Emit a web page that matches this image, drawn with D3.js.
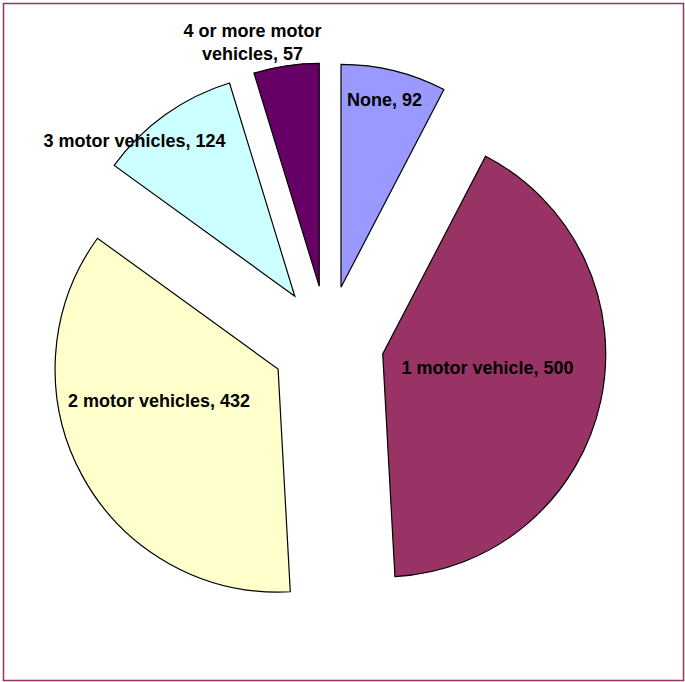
<!DOCTYPE html>
<html>
<head>
<meta charset="utf-8">
<script src="https://cdn.jsdelivr.net/npm/d3@7"></script>
<style>
  html, body { margin: 0; padding: 0; background: #fff; }
  svg { display: block; }
  text { font-family: Arial, "Liberation Sans", sans-serif; font-weight: bold; font-size: 18px; fill: #000; }
</style>
</head>
<body>
<svg id="chart" width="685" height="682"></svg>
<script>
// Households by number of motor vehicles
const categories = ["None", "1 motor vehicle", "2 motor vehicles", "3 motor vehicles", "4 or more motor vehicles"];
const values = [92, 500, 432, 124, 57];
const colors = ["#9999FF", "#993366", "#FFFFCC", "#CCFFFF", "#660066"];

// Label layout: lines of text and their anchor (text centre x, first baseline y)
const labelLines = [
  ["None, 92"],
  ["1 motor vehicle, 500"],
  ["2 motor vehicles, 432"],
  ["3 motor vehicles, 124"],
  ["4 or more motor", "vehicles, 57"]
];
const labelAnchors = [[384.5, 106], [487.5, 374], [159, 407], [134.5, 147], [252.5, 37]];

const W = 685, H = 682;
const cx = 327.6, cy = 342.1;   // pie centre
const radius = 223;
const explode = 56.4;           // distance each slice is pulled out

const svg = d3.select("#chart");

// frame
svg.append("rect")
  .attr("x", 3.5).attr("y", 3.5)
  .attr("width", 680).attr("height", 677)
  .attr("fill", "#fff")
  .attr("stroke", "#993366")
  .attr("stroke-width", 1.5);

const pie = d3.pie().sort(null).value(d => d.value);
const arc = d3.arc().innerRadius(0).outerRadius(radius);

const data = categories.map((c, i) => ({ name: c, value: values[i], color: colors[i] }));
const arcs = pie(data);

const g = svg.append("g").attr("transform", `translate(${cx},${cy})`);

g.selectAll("path")
  .data(arcs)
  .join("path")
  .attr("d", arc)
  .attr("fill", d => d.data.color)
  .attr("stroke", "#000")
  .attr("stroke-width", 1.2)
  .attr("stroke-linejoin", "miter")
  .attr("transform", d => {
    const mid = (d.startAngle + d.endAngle) / 2;
    return `translate(${explode * Math.sin(mid)},${-explode * Math.cos(mid)})`;
  });

// data labels
const lbl = svg.append("g");
labelLines.forEach((lines, i) => {
  const t = lbl.append("text")
    .attr("text-anchor", "middle")
    .attr("x", labelAnchors[i][0])
    .attr("y", labelAnchors[i][1]);
  lines.forEach((ln, k) => {
    t.append("tspan")
      .attr("x", labelAnchors[i][0])
      .attr("dy", k === 0 ? 0 : 23)
      .text(ln);
  });
});
</script>
</body>
</html>
